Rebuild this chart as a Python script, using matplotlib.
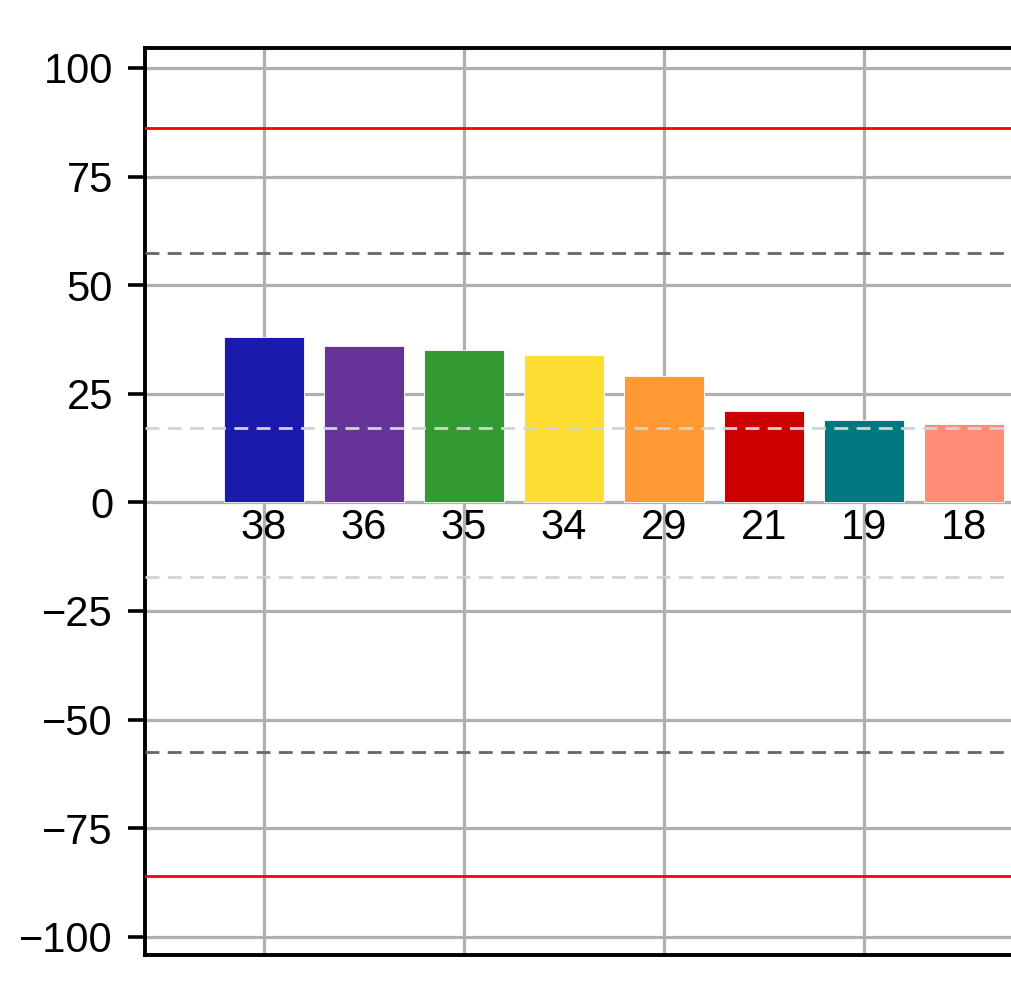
import matplotlib
matplotlib.use("Agg")
import matplotlib.pyplot as plt

values = [38, 36, 35, 34, 29, 21, 19, 18]
colors = ['#1a1aad', '#663399', '#339933', '#ffdd33', '#ff9933', '#cc0000', '#017780', '#ff8c75']
labels = [str(v) for v in values]

# reference lines (symmetric around zero)
red_level = 86.1
dark_level = 57.4
light_level = 17.2

yticks = [-100, -75, -50, -25, 0, 25, 50, 75, 100]

plt.rcParams['font.family'] = ['Liberation Sans', 'DejaVu Sans']

W, H = 1011, 1006
fig = plt.figure(figsize=(W / 100, H / 100), dpi=100)

# axes runs past the right edge of the picture (the original is a crop)
x_lo, x_hi = -1.19, 8.6
left_px, top_px, bottom_px = 145, 48, 955
ax = fig.add_axes([left_px / W, 1 - bottom_px / H,
                   (x_hi - x_lo) * 100 / W, (bottom_px - top_px) / H])

x = list(range(len(values)))
ax.bar(x, values, width=0.8, color=colors, edgecolor='white', linewidth=0.6, zorder=2)

for lvl, col, ls in [(red_level, 'red', '-'), (dark_level, '#666666', (0, (5, 3))),
                     (light_level, '#d3d3d3', (0, (5, 3)))]:
    ax.axhline(lvl, color=col, linestyle=ls, linewidth=2.0, zorder=3)
    ax.axhline(-lvl, color=col, linestyle=ls, linewidth=2.0, zorder=3)

for xi, lab in zip(x, labels):
    ax.text(xi, -1.2, lab, ha='center', va='top', fontsize=30, zorder=4)

ax.set_xlim(x_lo, x_hi)
ax.set_ylim(-104.2, 104.6)
ax.set_yticks(yticks)
ax.set_xticks([0, 2, 4, 6, 8])
ax.set_xticklabels([])
ax.tick_params(axis='x', length=0)
ax.tick_params(axis='y', labelsize=30, length=12, width=2.6, pad=11)
ax.grid(True, color='#b0b0b0', linewidth=2.3, zorder=0)
ax.set_axisbelow(True)
for s in ax.spines.values():
    s.set_linewidth(2.8)

fig.savefig('out.png', dpi=100)
